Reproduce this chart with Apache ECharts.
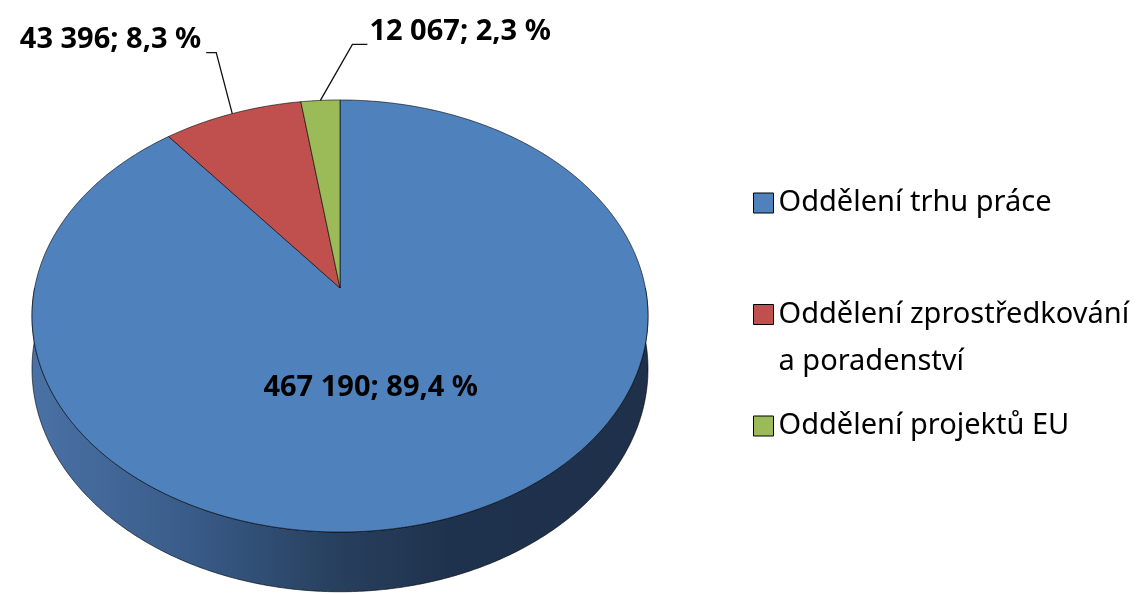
<!DOCTYPE html>
<html>
<head>
<meta charset="utf-8">
<script src="https://cdn.jsdelivr.net/npm/echarts@6/dist/echarts.min.js"></script>
<style>
  html, body { margin: 0; padding: 0; background: #fff; }
  #chart { width: 1144px; height: 594px; }
</style>
</head>
<body>
<div id="chart"></div>
<script>
// Categories and values
const CATEGORIES = ['Oddělení trhu práce', 'Oddělení zprostředkování a poradenství', 'Oddělení projektů EU'];
// Legend texts; the leading blank line keeps the marker level with the first text line
const LEGEND_LABELS = ['Oddělení trhu práce', '\nOddělení zprostředkování\na poradenství', 'Oddělení projektů EU'];
const VALUES = [467190, 43396, 12067];
const COLORS = ['#4F81BD', '#C0504D', '#9BBB59'];

// Label placement per slice: 'inside' or leader line with elbow offset and horizontal run
const LABEL_LAYOUT = [
  { inside: true, frac: 0.46, dx: -18, dy: 2 },
  { inside: false, elbow: [-16, -61], run: -10 },
  { inside: false, elbow: [32, -56], run: 15 }
];

// Perspective disc geometry (pixels)
const GEO = { cx: 340, cy: 288, a: 305.4, b: 212.4, k: 0.1296, depth: 52 };
const FONT = '"Noto Sans", "Open Sans", sans-serif';
const LABEL_FONT = 'bold 29px ' + FONT;

const TOTAL = VALUES.reduce((s, v) => s + v, 0);

function fmtNumber(v) {
  return String(v).replace(/\B(?=(\d{3})+(?!\d))/g, ' ');
}
function fmtPercent(v) {
  return (v / TOTAL * 100).toFixed(1).replace('.', ',') + ' %';
}

// Project an angle (clockwise from 12 o'clock) at radius fraction r onto the tilted disc
function project(theta, r, drop) {
  const u = Math.sin(theta) * r, v = Math.cos(theta) * r;
  const s = 1 / (1 + GEO.k * v);
  return [GEO.cx + GEO.a * u * s, GEO.cy - GEO.b * v * s + (drop || 0) * s];
}

function arcPoints(t0, t1, drop) {
  const n = Math.max(2, Math.ceil((t1 - t0) / 0.01));
  const pts = [];
  for (let i = 0; i <= n; i++) pts.push(project(t0 + (t1 - t0) * i / n, 1, drop));
  return pts;
}

function sliceAngles(idx) {
  let before = 0;
  for (let i = 0; i < idx; i++) before += VALUES[i];
  const t0 = before / TOTAL * Math.PI * 2;
  const t1 = (before + VALUES[idx]) / TOTAL * Math.PI * 2;
  return [t0, t1];
}

const sideGradient = new echarts.graphic.LinearGradient(
  GEO.cx - GEO.a, 0, GEO.cx + GEO.a, 0,
  [
    { offset: 0, color: '#4a71a5' },
    { offset: 0.27, color: '#385a87' },
    { offset: 0.48, color: '#28415f' },
    { offset: 0.68, color: '#1f324d' },
    { offset: 1, color: '#1e304a' }
  ],
  true
);

const EDGE = 'rgba(0,0,0,0.75)';

function renderSlice(params, api) {
  const idx = params.seriesIndex;
  const [t0, t1] = sliceAngles(idx);
  const children = [];

  // Visible front wall: part of the slice between 3 and 9 o'clock (through 6)
  const s0 = Math.max(t0, Math.PI / 2), s1 = Math.min(t1, Math.PI * 1.5);
  if (s1 > s0) {
    const top = arcPoints(s0, s1, 0);
    const bottom = arcPoints(s0, s1, GEO.depth).reverse();
    children.push({
      type: 'polygon', z2: 0,
      shape: { points: top.concat(bottom) },
      style: { fill: sideGradient, stroke: EDGE, lineWidth: 0.8 }
    });
  }

  // Top face
  children.push({
    type: 'polygon', z2: 1,
    shape: { points: [[GEO.cx, GEO.cy]].concat(arcPoints(t0, t1, 0)) },
    style: { fill: COLORS[idx], stroke: EDGE, lineWidth: 0.8, lineJoin: 'round' }
  });

  // Data label
  const text = fmtNumber(VALUES[idx]) + '; ' + fmtPercent(VALUES[idx]);
  const lay = LABEL_LAYOUT[idx];
  const mid = (t0 + t1) / 2;
  if (lay.inside) {
    const p = project(mid, lay.frac, 0);
    children.push({
      type: 'text', z2: 3,
      style: {
        x: p[0] + lay.dx, y: p[1] + lay.dy, text: text,
        fill: '#000', font: LABEL_FONT,
        align: 'center', verticalAlign: 'middle'
      }
    });
  } else {
    const start = project(mid, 1, 0);
    const elbow = [start[0] + lay.elbow[0], start[1] + lay.elbow[1]];
    const end = [elbow[0] + lay.run, elbow[1]];
    children.push({
      type: 'polyline', z2: 3,
      shape: { points: [start, elbow, end] },
      style: { stroke: '#111', lineWidth: 1.3, fill: null }
    });
    const left = lay.run > 0;
    children.push({
      type: 'text', z2: 3,
      style: {
        x: end[0] + (left ? 2 : -5), y: end[1] - 13, text: text,
        fill: '#000', font: LABEL_FONT,
        align: left ? 'left' : 'right', verticalAlign: 'middle'
      }
    });
  }
  return { type: 'group', children: children };
}

const chart = echarts.init(document.getElementById('chart'), null, { renderer: 'canvas' });

chart.setOption({
  animation: false,
  color: COLORS,
  legend: {
    orient: 'vertical',
    left: 753,
    top: 188,
    padding: 0,
    itemWidth: 20,
    itemHeight: 20,
    itemGap: 26,
    icon: 'rect',
    itemStyle: { borderColor: '#000', borderWidth: 1 },
    textStyle: { fontFamily: FONT, fontSize: 29, color: '#000', lineHeight: 30 },
    formatter: name => LEGEND_LABELS[CATEGORIES.indexOf(name)],
    data: [
      { name: CATEGORIES[0] },
      { name: CATEGORIES[1], textStyle: { lineHeight: 47 } },
      { name: CATEGORIES[2] }
    ]
  },
  series: CATEGORIES.map((name, i) => ({
    type: 'custom',
    name: name,
    coordinateSystem: 'none',
    itemStyle: { color: COLORS[i] },
    data: [VALUES[i]],
    renderItem: renderSlice
  }))
});
</script>
</body>
</html>
